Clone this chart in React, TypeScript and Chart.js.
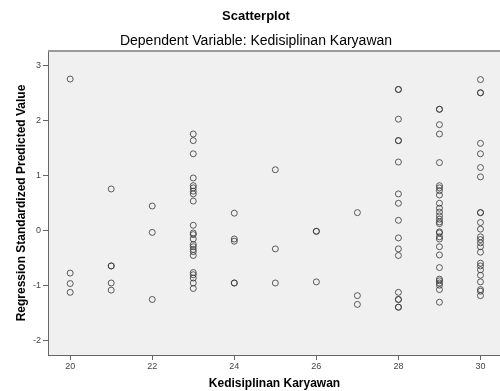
import React, { useEffect, useRef } from "react";
import { Chart, registerables } from "chart.js";

Chart.register(...registerables);

const chartTitle = "Scatterplot";
const chartSubtitle = "Dependent Variable: Kedisiplinan Karyawan";
const xAxisTitle = "Kedisiplinan Karyawan";
const yAxisTitle = "Regression Standardized Predicted Value";

// x category (Kedisiplinan Karyawan score) and the predicted values observed at each
const xValues = [20, 21, 22, 23, 24, 25, 26, 27, 28, 29, 30];
const y20 = [2.76, -0.77, -0.96, -1.12];
const y21 = [0.76, -0.64, -0.64, -0.95, -1.08];
const y22 = [0.45, -0.03, -1.25];
const y23 = [1.76, 1.64, 1.4, 0.96, 0.82, 0.78, 0.72, 0.67, 0.54, 0.1, -0.04, -0.07, -0.15, -0.25, -0.29, -0.34, -0.38, -0.45, -0.76, -0.8, -0.86, -0.95, -1.05];
const y24 = [0.32, -0.15, -0.19, -0.95, -0.95];
const y25 = [1.11, -0.33, -0.95];
const y26 = [-0.01, -0.01, -0.93];
const y27 = [0.33, -1.18, -1.34];
const y28 = [2.57, 2.57, 2.03, 1.64, 1.64, 1.25, 0.67, 0.5, 0.19, -0.13, -0.33, -0.45, -1.12, -1.25, -1.25, -1.39, -1.39];
const y29 = [2.21, 2.21, 1.93, 1.76, 1.24, 0.82, 0.78, 0.73, 0.65, 0.5, 0.41, 0.34, 0.27, 0.21, 0.16, 0.13, -0.02, -0.04, -0.11, -0.15, -0.29, -0.44, -0.67, -0.88, -0.91, -0.95, -0.99, -1.07, -1.3];
const y30 = [2.75, 2.51, 2.51, 1.59, 1.4, 1.15, 0.98, 0.33, 0.33, 0.15, 0.03, -0.11, -0.16, -0.22, -0.29, -0.39, -0.59, -0.64, -0.71, -0.81, -0.93, -1.07, -1.1, -1.18];
const yGroups = [y20, y21, y22, y23, y24, y25, y26, y27, y28, y29, y30];

const xMin = 19.46;
const xMax = 30.5;
const yMin = -2.26;
const yMax = 3.27;

const FONT = "'Liberation Sans', Arial, sans-serif";

export default function App() {
  const ref = useRef<HTMLCanvasElement | null>(null);

  useEffect(() => {
    if (!ref.current) return;
    const points: { x: number; y: number }[] = [];
    xValues.forEach((xv, i) => {
      yGroups[i].forEach((yv) => points.push({ x: xv, y: yv }));
    });

    const bgPlugin = {
      id: "plotBg",
      beforeDraw(chart: any) {
        const { ctx, chartArea } = chart;
        ctx.save();
        ctx.fillStyle = "#f0f0f0";
        ctx.fillRect(chartArea.left, chartArea.top, chartArea.right - chartArea.left, chartArea.bottom - chartArea.top);
        ctx.restore();
      },
      afterDraw(chart: any) {
        const { ctx, chartArea } = chart;
        ctx.save();
        ctx.strokeStyle = "#9a9a9a";
        ctx.lineWidth = 2;
        ctx.beginPath();
        ctx.moveTo(chartArea.left, chartArea.top);
        ctx.lineTo(chartArea.right, chartArea.top);
        ctx.stroke();
        ctx.fillStyle = "#000";
        ctx.textAlign = "center";
        ctx.textBaseline = "middle";
        ctx.font = `bold 13px ${FONT}`;
        ctx.fillText(chartTitle, 256, 16);
        ctx.font = `14px ${FONT}`;
        ctx.fillText(chartSubtitle, 256, 41);
        ctx.restore();
      },
    };

    const chart = new Chart(ref.current, {
      type: "scatter",
      data: {
        datasets: [
          {
            data: points,
            pointStyle: "circle",
            pointRadius: 3,
            pointHoverRadius: 3,
            pointBorderWidth: 1,
            borderColor: "rgba(55,55,55,0.8)",
            backgroundColor: "rgba(0,0,0,0)",
          },
        ],
      },
      options: {
        responsive: false,
        animation: false,
        layout: { padding: { top: 51, left: 0, right: 0, bottom: 0 } },
        plugins: {
          legend: { display: false },
          tooltip: { enabled: false },
          title: { display: false },
        },
        scales: {
          x: {
            type: "linear",
            min: xMin,
            max: xMax,
            afterFit: (s: any) => {
              s.height = 36;
            },
            ticks: {
              stepSize: 2,
              includeBounds: false,
              color: "#444",
              padding: 1,
              font: { family: FONT, size: 9 },
            },
            grid: { drawOnChartArea: false, drawTicks: true, tickLength: 5, color: "#666" },
            border: { display: true, color: "#666", width: 1 },
            title: {
              display: true,
              text: xAxisTitle,
              color: "#000",
              font: { family: FONT, size: 12, weight: "bold" },
              padding: { top: 0, bottom: 0 },
            },
          },
          y: {
            type: "linear",
            min: yMin,
            max: yMax,
            afterFit: (s: any) => {
              s.width = 48;
            },
            ticks: {
              stepSize: 1,
              includeBounds: false,
              color: "#444",
              padding: 2,
              font: { family: FONT, size: 9 },
            },
            grid: { drawOnChartArea: false, drawTicks: true, tickLength: 5, color: "#666" },
            border: { display: true, color: "#666", width: 1 },
            title: {
              display: true,
              text: yAxisTitle,
              color: "#000",
              font: { family: FONT, size: 12, weight: "bold" },
              padding: { top: 14, bottom: 0 },
            },
          },
        },
      },
      plugins: [bgPlugin],
    });
    return () => chart.destroy();
  }, []);

  return (
    <div style={{ position: "absolute", left: 0, top: 0, width: 500, height: 391, overflow: "hidden", background: "#fff" }}>
      <canvas ref={ref} width={505} height={391} style={{ display: "block" }} />
    </div>
  );
}
